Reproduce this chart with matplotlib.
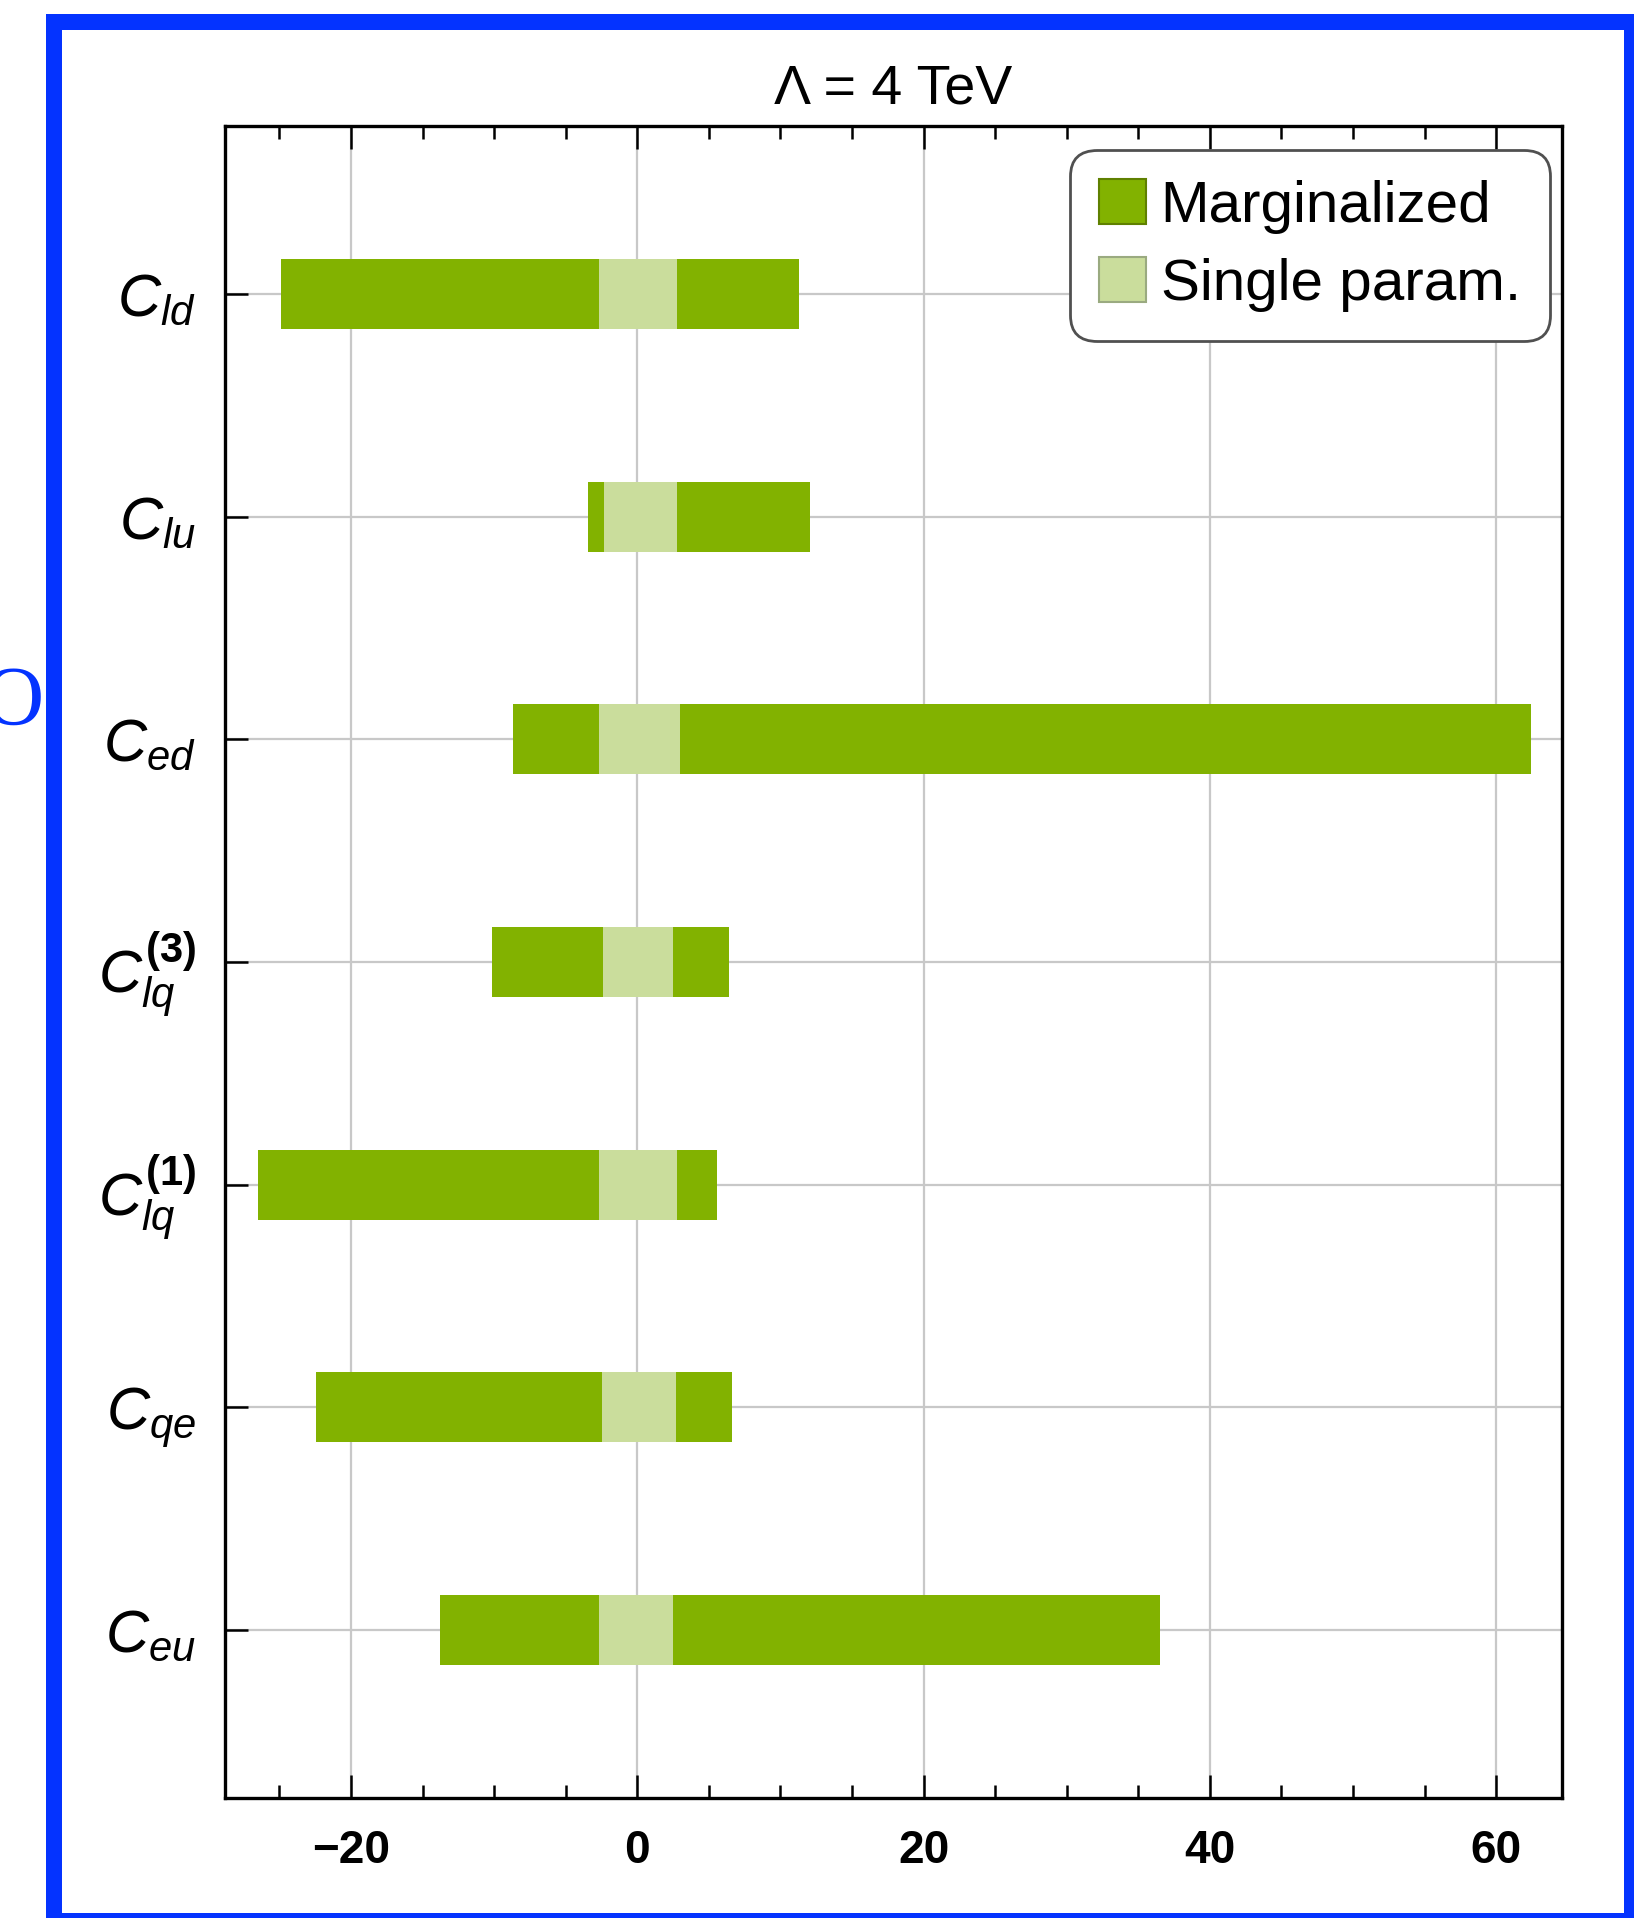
import matplotlib
matplotlib.use("Agg")
import matplotlib.pyplot as plt
from matplotlib.patches import Rectangle, Patch
from matplotlib.ticker import MultipleLocator

# ---- data -------------------------------------------------------------
coefficients = [r"$C_{ld}$", r"$C_{lu}$", r"$C_{ed}$",
                r"$C_{lq}^{\mathbf{(3)}}$", r"$C_{lq}^{\mathbf{(1)}}$",
                r"$C_{qe}$", r"$C_{eu}$"]
marg_low = [-24.9, -3.45, -8.7, -10.15, -26.5, -22.45, -13.8]
marg_high = [11.3, 12.05, 62.4, 6.4, 5.6, 6.6, 36.5]
single_low = [-2.65, -2.35, -2.7, -2.4, -2.65, -2.45, -2.65]
single_high = [2.8, 2.75, 3.0, 2.5, 2.75, 2.7, 2.5]
x_ticks = [-20, 0, 20, 40, 60]
title_text = "Λ = 4 TeV"
legend_labels = ["Marginalized", "Single param."]

# ---- style ------------------------------------------------------------
FONT = ["Liberation Sans", "DejaVu Sans"]
plt.rcParams["font.family"] = FONT
plt.rcParams["mathtext.fontset"] = "custom"
plt.rcParams["mathtext.it"] = "Liberation Sans:italic"
plt.rcParams["mathtext.rm"] = "Liberation Sans"
plt.rcParams["mathtext.bf"] = "Liberation Sans:bold"

DARK = "#82b200"
LIGHT = "#cadd9c"
BLUE = "#0433ff"

W, H, DPI = 1634, 1918, 100
fig = plt.figure(figsize=(W / DPI, H / DPI), dpi=DPI)
fig.patch.set_facecolor("white")

# axes box in pixel units -> figure fractions
ax_l, ax_r, ax_t, ax_b = 225, 1562, 126, 1798
ax = fig.add_axes([ax_l / W, 1 - ax_b / H, (ax_r - ax_l) / W, (ax_b - ax_t) / H])

n = len(coefficients)
ypos = list(range(n, 0, -1))
bar_h = 0.315

ax.barh(ypos, [h - l for l, h in zip(marg_low, marg_high)], left=marg_low,
        height=bar_h, color=DARK, edgecolor="none", zorder=3)
ax.barh(ypos, [h - l for l, h in zip(single_low, single_high)], left=single_low,
        height=bar_h, color=LIGHT, edgecolor="none", zorder=4)

ax.set_xlim(-28.8, 64.6)
ax.set_ylim(0.245, n + 0.755)

ax.set_xticks(x_ticks)
ax.set_xticklabels([f"{v:d}".replace("-", "\u2212") for v in x_ticks])
ax.xaxis.set_minor_locator(MultipleLocator(5))
ax.set_yticks(ypos)
ax.set_yticklabels(coefficients)

ax.grid(True, which="major", color="#c8c8c8", linewidth=1.6, zorder=0)
ax.set_axisbelow(True)

ax.tick_params(axis="x", which="major", direction="in", length=16.5, width=1.8,
               top=True, bottom=True, labelsize=33, pad=22)
ax.tick_params(axis="x", which="minor", direction="in", length=9.5, width=1.8,
               top=True, bottom=True)
ax.tick_params(axis="y", which="major", direction="in", length=16.5, width=1.8,
               left=True, right=False, labelsize=43, pad=21)
for lab in ax.get_xticklabels():
    lab.set_fontweight("bold")

for sp in ax.spines.values():
    sp.set_linewidth(2.4)
    sp.set_color("black")

ax.set_title(title_text, fontsize=40, pad=16.5)

handles = [Patch(facecolor=DARK, edgecolor="#5f8000", linewidth=1.5),
           Patch(facecolor=LIGHT, edgecolor="#9aaa80", linewidth=1.5)]
leg = ax.legend(handles, legend_labels, loc="upper right",
                bbox_to_anchor=((1550 - ax_l) / (ax_r - ax_l), (ax_b - 150) / (ax_b - ax_t)),
                borderaxespad=0, fontsize=42, handlelength=0.8, handleheight=0.8,
                handletextpad=0.25, labelspacing=0.4, borderpad=0.5,
                fancybox=True, framealpha=1, edgecolor="#505050")
leg.get_frame().set_linewidth(2.0)
leg.get_frame().set_boxstyle("round,pad=0,rounding_size=0.45")
leg.set_zorder(10)

# ---- blue frame around the panel and stray glyph at the left edge -----
def px_rect(x0, y0, x1, y1):
    return Rectangle((x0 / W, 1 - y1 / H), (x1 - x0) / W, (y1 - y0) / H,
                     transform=fig.transFigure, facecolor=BLUE, edgecolor="none",
                     zorder=20)

for r in [px_rect(46, 14, 62, H), px_rect(46, 14, W, 30),
          px_rect(1624, 14, W, H), px_rect(46, 1913, W, H)]:
    fig.add_artist(r)

fig.text(13 / W, 1 - 725 / H, "O", color=BLUE, fontsize=61,
         family=["Liberation Serif", "DejaVu Serif"], ha="center", va="baseline")

fig.savefig("out.png", dpi=DPI)
